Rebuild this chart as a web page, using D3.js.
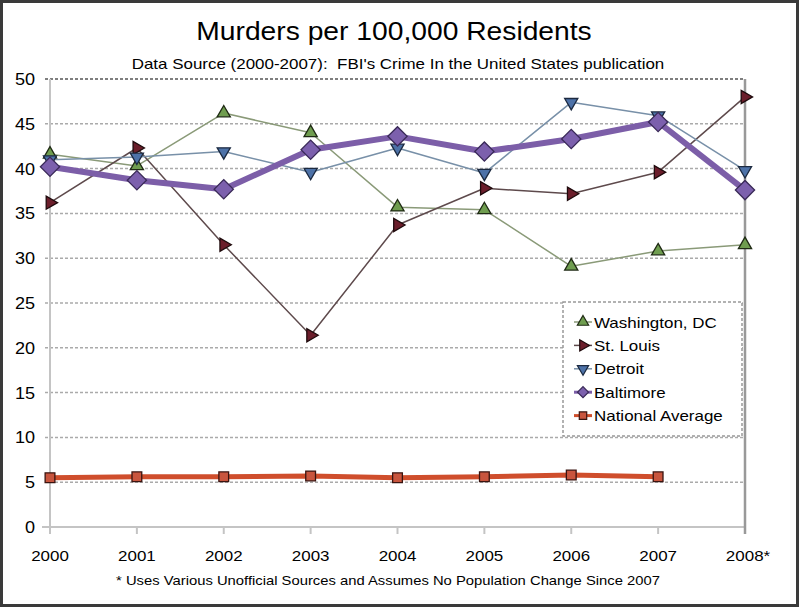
<!DOCTYPE html>
<html>
<head>
<meta charset="utf-8">
<script src="https://cdn.jsdelivr.net/npm/d3@7"></script>
<style>
  body { margin: 0; background: #fff; }
  svg { display: block; font-family: "Liberation Sans", Arial, sans-serif; }
</style>
</head>
<body>
<svg id="chart" width="800" height="610"></svg>
<script>
const years = ["2000", "2001", "2002", "2003", "2004", "2005", "2006", "2007", "2008*"];
const yTicks = [0, 5, 10, 15, 20, 25, 30, 35, 40, 45, 50];

const washington = [41.6, 40.3, 46.2, 44.0, 35.7, 35.4, 29.1, 30.8, 31.5];
const stLouis = [36.2, 42.3, 31.5, 21.4, 33.7, 37.8, 37.2, 39.6, 48.0];
const detroit = [41.0, 41.3, 41.9, 39.6, 42.3, 39.5, 47.4, 45.9, 39.8];
const baltimore = [40.2, 38.7, 37.7, 42.1, 43.6, 41.9, 43.3, 45.2, 37.6];
const nationalAvg = [5.5, 5.6, 5.6, 5.7, 5.5, 5.6, 5.8, 5.6];

const seriesNames = ["Washington, DC", "St. Louis", "Detroit", "Baltimore", "National Average"];

const svg = d3.select("#chart");
const width = +svg.attr("width");
const height = +svg.attr("height");

// the original picture is a bit wider than tall, so text gets stretched sideways
const stretch = 1.13;

const x = d3.scalePoint().domain(years).range([50, 745]);
const y = d3.scaleLinear().domain([0, 50]).range([527, 79]);

function label(parent, tx, ty, size, anchor, str) {
    return parent.append("text")
        .attr("transform", `translate(${tx},${ty}) scale(${stretch},1)`)
        .attr("text-anchor", anchor)
        .style("font-size", size + "px")
        .style("fill", "#000")
        .style("white-space", "pre")
        .text(str);
}

// outer frame
svg.append("rect")
    .attr("x", 1.5).attr("y", 1.5)
    .attr("width", width - 4).attr("height", height - 6)
    .attr("fill", "#fff")
    .attr("stroke", "#3a3a3a")
    .attr("stroke-width", 3);

label(svg, 394, 40, 25, "middle", "Murders per 100,000 Residents");
label(svg, 398, 69, 15, "middle", "Data Source (2000-2007):  FBI's Crime In the United States publication");

// gridlines
svg.append("g")
    .selectAll("line")
    .data(yTicks.filter(d => d > 0 && d < 50))
    .join("line")
    .attr("x1", 45)
    .attr("x2", 745)
    .attr("y1", d => y(d))
    .attr("y2", d => y(d))
    .attr("stroke", "#aaa")
    .attr("stroke-width", 1.5)
    .attr("stroke-dasharray", "3,2");

svg.append("line")
    .attr("x1", 45).attr("x2", 745)
    .attr("y1", y(50)).attr("y2", y(50))
    .attr("stroke", "#555")
    .attr("stroke-width", 1.5)
    .attr("stroke-dasharray", "3,2");

// axes lines
svg.append("line")
    .attr("x1", 50).attr("x2", 50)
    .attr("y1", y(50)).attr("y2", y(0) + 7)
    .attr("stroke", "#c4c4c4")
    .attr("stroke-width", 2);

svg.append("line")
    .attr("x1", 42).attr("x2", 745)
    .attr("y1", y(0)).attr("y2", y(0))
    .attr("stroke", "#c4c4c4")
    .attr("stroke-width", 2);

svg.append("line")
    .attr("x1", 745).attr("x2", 745)
    .attr("y1", y(50)).attr("y2", y(0) + 7)
    .attr("stroke", "#999")
    .attr("stroke-width", 2.5);

svg.append("g")
    .selectAll("line")
    .data(years.slice(1, -1))
    .join("line")
    .attr("x1", d => x(d)).attr("x2", d => x(d))
    .attr("y1", y(0)).attr("y2", y(0) + 7)
    .attr("stroke", "#c4c4c4")
    .attr("stroke-width", 2);

const yLabels = svg.append("g");
yTicks.forEach(d => label(yLabels, 35, y(d) + 6, 16, "end", d));

const xLabels = svg.append("g");
years.forEach(d => label(xLabels, x(d) + (d === "2008*" ? 3 : 0), 561, 15, "middle", d));

label(svg, 388, 585, 13.1, "middle", "* Uses Various Unofficial Sources and Assumes No Population Change Since 2007");

// series
const tri = d3.symbol().type(d3.symbolTriangle).size(75);
const sq = d3.symbol().type(d3.symbolSquare).size(95);
const dia = d3.symbol().type(d3.symbolSquare).size(185);

const series = [
    {name: seriesNames[0], values: washington, line: "#8a9a78", lw: 1.5, fill: "#6f9d4f", stroke: "#1f2a14", path: tri(), rot: 0},
    {name: seriesNames[1], values: stLouis, line: "#5e4a4c", lw: 1.5, fill: "#6b1e2b", stroke: "#1e0a0c", path: tri(), rot: 90},
    {name: seriesNames[2], values: detroit, line: "#7890a8", lw: 1.5, fill: "#4d72a8", stroke: "#1c2a40", path: tri(), rot: 180},
    {name: seriesNames[3], values: baltimore, line: "#7c5ea8", lw: 6, fill: "#7c60ad", stroke: "#3a2a58", path: dia(), rot: 45},
    {name: seriesNames[4], values: nationalAvg, line: "#cf4e2c", lw: 5, fill: "#c8553e", stroke: "#3a1410", path: sq(), rot: 0}
];

const line = d3.line()
    .x((d, i) => x(years[i]))
    .y(d => y(d));

series.forEach(s => {
    const g = svg.append("g");
    g.append("path")
        .datum(s.values)
        .attr("d", line)
        .attr("fill", "none")
        .attr("stroke", s.line)
        .attr("stroke-width", s.lw)
        .attr("stroke-linejoin", "round");
    g.selectAll("path.pt")
        .data(s.values)
        .join("path")
        .attr("class", "pt")
        .attr("d", s.path)
        .attr("transform", (d, i) => `translate(${x(years[i])},${y(d)}) rotate(${s.rot})`)
        .attr("fill", s.fill)
        .attr("stroke", s.stroke)
        .attr("stroke-width", 1.3);
});

// legend
const legend = svg.append("g").attr("transform", "translate(563, 302)");

legend.append("rect")
    .attr("width", 179)
    .attr("height", 134)
    .attr("fill", "#fff")
    .attr("stroke", "#999")
    .attr("stroke-width", 1.5)
    .attr("stroke-dasharray", "3,2");

series.forEach((s, i) => {
    const item = legend.append("g")
        .attr("transform", `translate(20, ${20 + i * 23.4})`);

    item.append("line")
        .attr("x1", -9).attr("x2", 9)
        .attr("stroke", s.line)
        .attr("stroke-width", Math.min(s.lw, 3));

    const shape = s.name === "Washington, DC" || s.name === "St. Louis" || s.name === "Detroit"
        ? d3.symbolTriangle : d3.symbolSquare;

    item.append("path")
        .attr("d", d3.symbol().type(shape).size(s.name === "Baltimore" ? 60 : 55)())
        .attr("transform", `rotate(${s.rot})`)
        .attr("fill", s.fill)
        .attr("stroke", s.stroke)
        .attr("stroke-width", 1.2);

    label(item, 11, 5.5, 15, "start", s.name);
});
</script>
</body>
</html>
